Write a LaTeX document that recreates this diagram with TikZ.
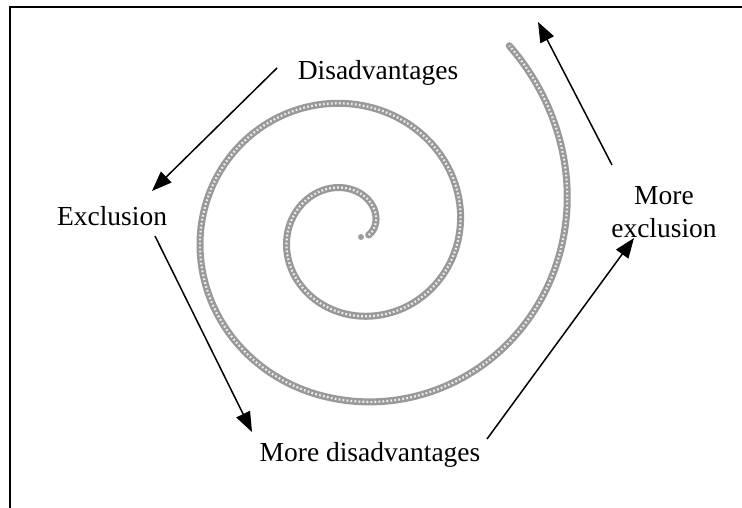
\documentclass[tikz,border=0pt]{standalone}
\usepackage{fontspec}
\setmainfont{Liberation Serif}
\usetikzlibrary{arrows.meta}
\begin{document}
\begin{tikzpicture}[x=1pt,y=-1pt,
  lbl/.style={font=\fontsize{27.5}{33}\selectfont, align=center, inner sep=0pt},
  flow/.style={line width=1.5pt, -{Triangle[length=20pt,width=15pt]}},
  frameline/.style={line width=2.2pt},
  chain/.style={line width=7pt, draw=gray!80, line cap=round},
  chainholes/.style={line width=2.2pt, draw=white!85!gray, dash pattern=on 1.8pt off 2.2pt}]
\useasboundingbox (0,0) rectangle (742,508);
\fill[white] (0,0) rectangle (742,508);
% frame
\draw[frameline] (10,508) -- (10,7) -- (742,7);
% spiral
\draw[chain] plot[smooth, domain=-0.15:8.56, samples=320, variable=\t]
  ({352+1.02*(20+21.4*\t+13*max(0,\t-6.85)^2)*cos(90*\t)},
   {231-(20+21.4*\t+13*max(0,\t-6.85)^2)*sin(90*\t)});
\draw[chainholes] plot[smooth, domain=-0.15:8.56, samples=320, variable=\t]
  ({352+1.02*(20+21.4*\t+13*max(0,\t-6.85)^2)*cos(90*\t)},
   {231-(20+21.4*\t+13*max(0,\t-6.85)^2)*sin(90*\t)});
\fill[gray!75] (361,237) circle (3pt);
% labels
\node[lbl] (dis) at (378,73) {Disadvantages};
\node[lbl] (exc) at (112,216) {Exclusion};
\node[lbl] (mdis) at (370,455) {More disadvantages};
\node[lbl] (mexc) at (664,212) {More\\exclusion};
% connector ends
\coordinate (a1s) at (277,68);
\coordinate (a1e) at (152,191);
\coordinate (a2s) at (155,236);
\coordinate (a2e) at (252,432);
\coordinate (a3s) at (487,439);
\coordinate (a3e) at (634,238);
\coordinate (a4s) at (612,165);
\coordinate (a4e) at (538,22);
\draw[flow] (a1s) -- (a1e);
\draw[flow] (a2s) -- (a2e);
\draw[flow] (a3s) -- (a3e);
\draw[flow] (a4s) -- (a4e);
\end{tikzpicture}
\end{document}
